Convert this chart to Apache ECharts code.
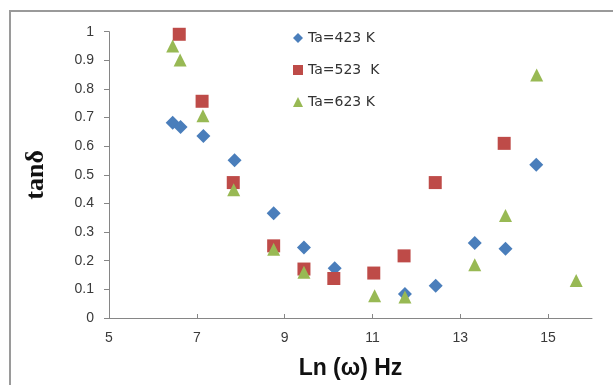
<!DOCTYPE html>
<html>
<head>
<meta charset="utf-8">
<script src="https://cdn.jsdelivr.net/npm/echarts@6/dist/echarts.min.js"></script>
<style>
  html, body { margin: 0; padding: 0; background: #fff; }
  #chart { width: 613px; height: 385px; }
</style>
</head>
<body>
<div id="chart"></div>
<script>
// 数据
const seriesNames = ['Ta=423 K', 'Ta=523  K', 'Ta=623 K']
const x423 = [6.45, 6.63, 7.15, 7.86, 8.75, 9.44, 10.14, 11.74, 12.44, 13.33, 14.03, 14.73]
const y423 = [0.682, 0.667, 0.636, 0.551, 0.366, 0.246, 0.174, 0.084, 0.113, 0.262, 0.242, 0.535]
const x523 = [6.60, 7.12, 7.83, 8.75, 9.44, 10.12, 11.03, 11.72, 12.43, 14.00]
const y523 = [0.991, 0.757, 0.473, 0.252, 0.171, 0.138, 0.157, 0.217, 0.473, 0.610]
const x623 = [6.45, 6.62, 7.14, 7.84, 8.75, 9.44, 11.05, 11.74, 13.33, 14.03, 14.74, 15.64]
const y623 = [0.950, 0.901, 0.706, 0.448, 0.240, 0.160, 0.078, 0.073, 0.186, 0.358, 0.849, 0.131]

const pairs = (xs, ys) => xs.map((x, i) => [x, ys[i]])

const chart = echarts.init(document.getElementById('chart'))

const axisLineStyle = { color: '#868686', width: 1 }
const labelStyle = { color: '#3a3a3a', fontFamily: 'Liberation Sans', fontSize: 14 }

const option = {
  animation: false,
  backgroundColor: '#fff',
  graphic: [
    {
      type: 'rect',
      shape: { x: 10, y: 11, width: 640, height: 420 },
      style: { fill: 'none', stroke: '#9a9a9a', lineWidth: 2 },
      silent: true
    }
  ],
  grid: {
    left: 109,
    right: 21,
    top: 31.7,
    bottom: 66.7
  },
  legend: {
    orient: 'vertical',
    left: 288,
    top: 26,
    itemGap: 18,
    itemWidth: 10,
    itemHeight: 10,
    textStyle: { color: '#333', fontFamily: 'DejaVu Sans', fontSize: 14 },
    data: seriesNames
  },
  xAxis: {
    type: 'value',
    min: 5,
    max: 16,
    interval: 2,
    name: 'Ln (ω) Hz',
    nameLocation: 'middle',
    nameGap: 39,
    nameTextStyle: { color: '#111', fontFamily: 'Liberation Sans', fontWeight: 'bold', fontSize: 23 },
    axisLine: { show: true, lineStyle: axisLineStyle },
    axisTick: { show: true, inside: true, length: 4, lineStyle: axisLineStyle },
    axisLabel: { ...labelStyle, margin: 13, showMaxLabel: false },
    splitLine: { show: false }
  },
  yAxis: {
    type: 'value',
    min: 0,
    max: 1,
    interval: 0.1,
    name: 'tanδ',
    nameLocation: 'middle',
    nameGap: 60,
    nameTextStyle: { color: '#111', fontFamily: 'Liberation Serif', fontWeight: 'bold', fontSize: 26 },
    axisLine: { show: true, lineStyle: axisLineStyle },
    axisTick: { show: true, length: 5, lineStyle: axisLineStyle },
    axisLabel: { ...labelStyle, margin: 15 },
    splitLine: { show: false }
  },
  series: [
    {
      name: seriesNames[0],
      type: 'scatter',
      symbol: 'diamond',
      symbolSize: 14,
      itemStyle: { color: '#4A7EBB', opacity: 1 },
      data: pairs(x423, y423)
    },
    {
      name: seriesNames[1],
      type: 'scatter',
      symbol: 'rect',
      symbolSize: 13,
      itemStyle: { color: '#BE4B48', opacity: 1 },
      data: pairs(x523, y523)
    },
    {
      name: seriesNames[2],
      type: 'scatter',
      symbol: 'triangle',
      symbolSize: 13,
      itemStyle: { color: '#98B954', opacity: 1 },
      data: pairs(x623, y623)
    }
  ]
}

chart.setOption(option)
</script>
</body>
</html>
